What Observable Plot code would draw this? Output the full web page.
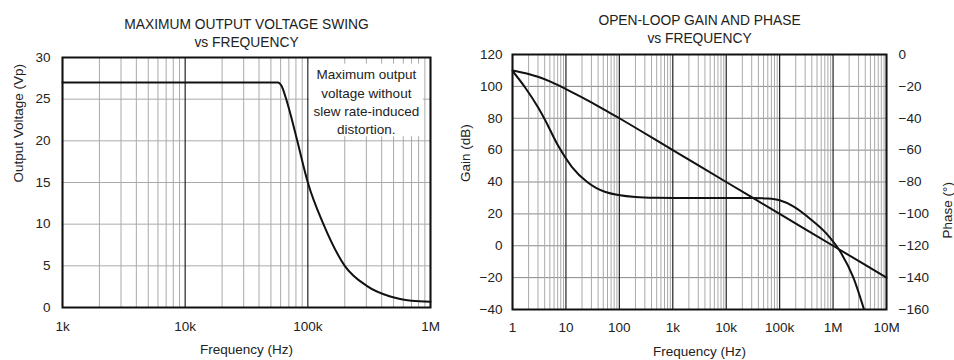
<!DOCTYPE html>
<html><head><meta charset="utf-8">
<script src="https://cdn.jsdelivr.net/npm/d3@7"></script>
<script src="https://cdn.jsdelivr.net/npm/@observablehq/plot@0.6"></script>
<style>
body{margin:0;background:#fff;}
#wrap{position:relative;width:954px;height:360px;overflow:hidden;background:#fff;}
#wrap svg{position:absolute;top:0;}
</style></head><body><div id="wrap"></div>
<script>
// ---- Left chart: maximum output voltage swing vs frequency ----
const swingFreq = [1e3, 5e4, 5.7e4, 6.1e4, 6.6e4, 7.4e4, 8.2e4, 1e5, 1.34e5, 2e5, 3.02e5, 4.7e5, 7e5, 1e6];
const swingVolt = [27, 27, 27, 26.6, 25.2, 22.6, 20, 15, 10, 5, 2.6, 1.32, 0.82, 0.7];
const swingXTicks = [1e3, 1e4, 1e5, 1e6];
const swingXLabels = ["1k", "10k", "100k", "1M"];
const swingYTicks = [0, 5, 10, 15, 20, 25, 30];
const annotationLines = ["Maximum output", "voltage without", "slew rate-induced", "distortion."];

// ---- Right chart: open-loop gain and phase vs frequency ----
const gainFreq = [1, 2, 3, 5, 10, 20, 50, 100, 1e3, 1e4, 1e5, 1e6, 1e7];
const gainDb = [110, 107.8, 106, 103.1, 98.3, 93.1, 85.8, 80, 60, 40, 20, 0, -20];
const phaseFreq = [1, 1.75, 3.1, 4, 7.3, 13, 25, 55, 200, 500, 1e3, 3e4, 6e4, 1e5, 1.8e5, 3.7e5, 7.6e5, 1.35e6, 2.4e6, 3.8e6];
const phaseDeg = [-10.3, -21, -33.9, -40.6, -57.8, -70.6, -80, -86.3, -89.4, -89.9, -90, -90, -90.4, -91.5, -95.3, -103, -112.5, -123.5, -140, -160];
const bodeXTicks = [1, 10, 100, 1e3, 1e4, 1e5, 1e6, 1e7];
const bodeXLabels = ["1", "10", "100", "1k", "10k", "100k", "1M", "10M"];
const gainTicks = [-40, -20, 0, 20, 40, 60, 80, 100, 120];
const phaseTicks = [0, -20, -40, -60, -80, -100, -120, -140, -160];
const phaseOffset = 120; // phase axis 0..-160 shares gridlines with gain axis 120..-40

const font = "'Liberation Sans', Arial, Helvetica, sans-serif";
const fmtNum = d => d < 0 ? "\u2212" + Math.abs(d) : String(d);
const minorOf = decades => decades.flatMap(d => [2, 3, 4, 5, 6, 7, 8, 9].map(k => d * k));
const labelOf = (ticks, labels) => d => labels[ticks.findIndex(t => Math.abs(t - d) < 1e-9 * t)];

const swingData = swingFreq.map((f, i) => ({f, v: swingVolt[i]}));
const gainData = gainFreq.map((f, i) => ({f, g: gainDb[i]}));
const phaseData = phaseFreq.map((f, i) => ({f, p: phaseDeg[i]}));

const left = Plot.plot({
  width: 460, height: 360,
  marginLeft: 62, marginRight: 30, marginTop: 57, marginBottom: 53,
  style: {fontFamily: font, fontSize: "13.5px", color: "#222", background: "none", overflow: "visible"},
  x: {type: "log", domain: [1e3, 1e6]},
  y: {domain: [0, 30]},
  marks: [
    Plot.ruleY(swingYTicks, {stroke: "#aaa", strokeWidth: 1}),
    Plot.ruleX(minorOf(swingXTicks.slice(0, -1)), {stroke: "#aaa", strokeWidth: 1}),
    Plot.ruleX(swingXTicks, {stroke: "#222", strokeWidth: 1.2}),
    Plot.rect([{x1: 1.03e5, x2: 8.75e5, y1: 20.5, y2: 29.2}], {x1: "x1", x2: "x2", y1: "y1", y2: "y2", fill: "white"}),
    Plot.text([annotationLines.join("\n")], {x: 3e5, y: 24.8, text: d => d, lineAnchor: "middle", lineHeight: 1.36, fill: "#222"}),
    Plot.line(swingData, {x: "f", y: "v", curve: "monotone-x", stroke: "#111", strokeWidth: 2}),
    Plot.frame({stroke: "#111", strokeWidth: 2}),
    Plot.axisX(swingXTicks, {tickSize: 0, tickPadding: 14, tickFormat: labelOf(swingXTicks, swingXLabels), label: null}),
    Plot.axisY(swingYTicks, {tickSize: 0, tickPadding: 12, tickFormat: fmtNum, label: null}),
    Plot.text(["Frequency (Hz)"], {frameAnchor: "bottom", dy: 42, lineAnchor: "middle", text: d => d}),
    Plot.text(["Output Voltage (Vp)"], {frameAnchor: "left", dx: -44, rotate: -90, lineAnchor: "middle", text: d => d}),
    Plot.text(["MAXIMUM OUTPUT VOLTAGE SWING\nvs FREQUENCY"], {frameAnchor: "top", dy: -25.3, lineAnchor: "middle", lineHeight: 1.3, fontSize: 13.8, text: d => d})
  ]
});

const right = Plot.plot({
  width: 514, height: 360,
  marginLeft: 72, marginRight: 68, marginTop: 54, marginBottom: 51,
  style: {fontFamily: font, fontSize: "13.5px", color: "#222", background: "none", overflow: "visible"},
  x: {type: "log", domain: [1, 1e7]},
  y: {domain: [-40, 120]},
  marks: [
    Plot.ruleY(gainTicks, {stroke: "#888", strokeWidth: 1}),
    Plot.ruleX(minorOf(bodeXTicks.slice(0, -1)), {stroke: "#aaa", strokeWidth: 1}),
    Plot.ruleX(bodeXTicks, {stroke: "#222", strokeWidth: 1.2}),
    Plot.line(gainData, {x: "f", y: "g", curve: "monotone-x", stroke: "#111", strokeWidth: 2}),
    Plot.line(phaseData, {x: "f", y: d => d.p + phaseOffset, curve: "monotone-x", stroke: "#111", strokeWidth: 2, clip: true}),
    Plot.frame({stroke: "#111", strokeWidth: 2}),
    Plot.axisX(bodeXTicks, {tickSize: 0, tickPadding: 13, tickFormat: labelOf(bodeXTicks, bodeXLabels), label: null}),
    Plot.axisY(gainTicks, {tickSize: 0, tickPadding: 10, tickFormat: fmtNum, label: null}),
    Plot.axisY(phaseTicks.map(p => p + phaseOffset), {anchor: "right", tickSize: 0, tickPadding: 12, tickFormat: d => fmtNum(Math.round(d - phaseOffset)), label: null}),
    Plot.text(["Frequency (Hz)"], {frameAnchor: "bottom", dy: 42, lineAnchor: "middle", text: d => d}),
    Plot.text(["Gain (dB)"], {frameAnchor: "left", dx: -47, rotate: -90, lineAnchor: "middle", text: d => d}),
    Plot.text(["Phase (\u00b0)"], {frameAnchor: "right", dx: 61, rotate: -90, lineAnchor: "middle", text: d => d}),
    Plot.text(["OPEN-LOOP GAIN AND PHASE\nvs FREQUENCY"], {frameAnchor: "top", dy: -26.2, lineAnchor: "middle", lineHeight: 1.28, fontSize: 13.8, text: d => d})
  ]
});

const wrap = document.getElementById("wrap");
left.style.left = "0px";
right.style.left = "440px";
wrap.appendChild(left);
wrap.appendChild(right);
</script>
</body></html>
